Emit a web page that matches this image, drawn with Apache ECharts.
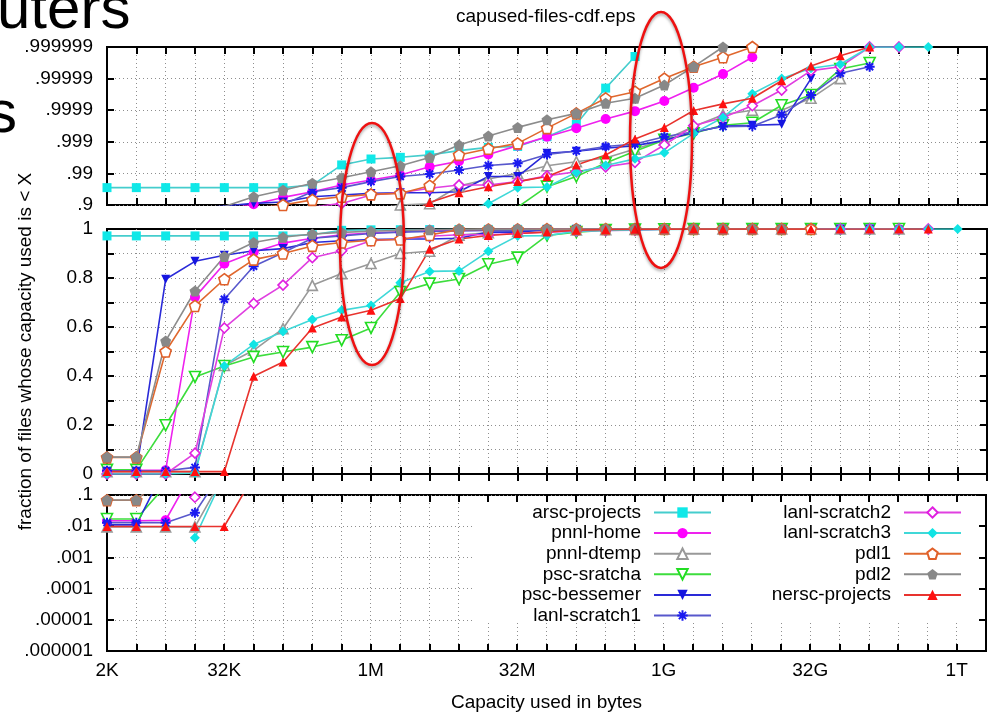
<!DOCTYPE html>
<html>
<head>
<meta charset="utf-8">
<script src="https://cdn.jsdelivr.net/npm/echarts@6/dist/echarts.min.js"></script>
<style>
  html, body { margin: 0; padding: 0; background: #fff; }
  #chart { width: 989px; height: 713px; }
</style>
</head>
<body>
<div id="chart"></div>
<script>
// capacity bucket as log2(bytes): 11 = 2K ... 40 = 1T
const sizeExp = [11, 12, 13, 14, 15, 16, 17, 18, 19, 20, 21, 22, 23, 24, 25,
                 26, 27, 28, 29, 30, 31, 32, 33, 34, 35, 36, 37, 38, 39, 40];
const xTickLabels = { 11: '2K', 15: '32K', 20: '1M', 25: '32M', 30: '1G', 35: '32G', 40: '1T' };

// fraction of files whose capacity used is < X, one value per bucket
const arscProjects = [0.9718, 0.9718, 0.9718, 0.9718, 0.9718, 0.9718, 0.9718, 0.9766, 0.9946, 0.9965,
  0.9969, 0.9974, 0.9981, 0.9985, 0.9986, 0.99931, 0.99972, 0.99998, 0.999998, 1,
  1, null, null, null, null, null, null, null, null, null];
const pnnlHome = [0.015, 0.015, 0.0155, 0.722, 0.858, 0.905, 0.9425, 0.962, 0.9766, 0.9838,
  0.9888, 0.9938, 0.9959, 0.99749, 0.99868, 0.99931, 0.99963, 0.99981, 0.999893, 0.999949,
  0.9999805, 0.9999928, 0.9999979, 1, 1, null, null, null, null, null];
const pnnlDtemp = [0.0095, 0.0095, 0.0095, 0.0095, 0.443, 0.505, 0.593, 0.77, 0.818, 0.859,
  0.9, 0.909, 0.975, 0.985, 0.99, 0.99425, 0.99573, 0.99676, 0.9983, 0.99913,
  0.99967, 0.99986, 0.9999, 0.9999, 0.999958, 0.99999, 1, 1, null, null];
const pscSratcha = [0.017, 0.017, 0.199, 0.396, 0.441, 0.478, 0.498, 0.518, 0.546, 0.596,
  0.743, 0.777, 0.796, 0.856, 0.883, 0.9737, 0.9874, 0.9953, 0.998, 0.99913,
  0.99946, 0.9997, 0.99975, 0.99993, 0.999967, 0.999995, 0.9999968, 1, null, null];
const pscBessemer = [0.011, 0.011, 0.795, 0.868, 0.893, 0.911, 0.92, 0.945, 0.952, 0.957,
  0.959, 0.959, 0.962, 0.9874, 0.9874, 0.9977, 0.998, 0.9984, 0.99868, 0.9991,
  0.9995, 0.99968, 0.9997, 0.99972, 0.99999, 1, 1, null, null, null];
const lanlScratch1 = [0.013, 0.013, 0.013, 0.027, 0.713, 0.848, 0.903, 0.962, 0.9718, 0.9818,
  0.9874, 0.9895, 0.9922, 0.99438, 0.9952, 0.99749, 0.99805, 0.99859, 0.99883, 0.99931,
  0.99952, 0.99967, 0.99968, 0.99986, 0.999967, 0.9999932, 0.9999958, 1, null, null];
const lanlScratch2 = [0, 0, 0, 0.085, 0.596, 0.696, 0.771, 0.883, 0.911, 0.952,
  0.959, 0.9705, 0.9766, 0.9766, 0.9818, 0.988, 0.9911, 0.99383, 0.99553, 0.99874,
  0.99969, 0.99983, 0.999928, 0.999977, 0.9999944, 0.9999958, 0.999999, 0.999999, 1, null];
const lanlScratch3 = [0, 0, 0, 0.0043, 0.441, 0.529, 0.582, 0.631, 0.668, 0.688,
  0.781, 0.827, 0.829, 0.909, 0.9718, 0.973, 0.9907, 0.99438, 0.99653, 0.99776,
  0.99946, 0.99983, 0.99997, 0.99999, 0.9999953, 0.9999965, 0.999999, 0.999999, 0.999999, 1];
const pdl1 = [0.068, 0.068, 0.5, 0.686, 0.795, 0.875, 0.9, 0.931, 0.945, 0.954,
  0.957, 0.9755, 0.9974, 0.99834, 0.99888, 0.99963, 0.999874, 0.999958, 0.999974, 0.99999,
  0.9999958, 0.9999979, 0.999999, 1, 1, null, null, null, null, null];
const pdl2 = [0.069, 0.069, 0.543, 0.747, 0.888, 0.945, 0.966, 0.9796, 0.9862, 0.9911,
  0.99425, 0.99684, 0.99874, 0.99934, 0.99965, 0.9998, 0.999874, 0.99994, 0.999958, 0.999984,
  0.9999958, 0.999999, 1, 1, null, null, null, null, null, null];
const nerscProjects = [0.0098, 0.0098, 0.0098, 0.0098, 0.0098, 0.399, 0.457, 0.596, 0.641, 0.668,
  0.716, 0.917, 0.9593, 0.9737, 0.9818, 0.9874, 0.9946, 0.99737, 0.99919, 0.99965,
  0.999898, 0.999937, 0.999958, 0.9999883, 0.999996, 0.9999981, 0.999999, 1, 1, null];

const legendLeft = ['arsc-projects', 'pnnl-home', 'pnnl-dtemp', 'psc-sratcha', 'psc-bessemer', 'lanl-scratch1'];
const legendRight = ['lanl-scratch2', 'lanl-scratch3', 'pdl1', 'pdl2', 'nersc-projects'];

const FONT = '"Liberation Sans", Arial, sans-serif';
const triDown = 'path://M0,0L10,0L5,9Z';
const pentagon = 'path://M5,0L10,3.6L8.1,9.5L1.9,9.5L0,3.6Z';
const asterisk = 'path://M5,0L5,10M0,5L10,5M1.5,1.5L8.5,8.5M1.5,8.5L8.5,1.5';

const defs = [
  { name: 'arsc-projects', data: arscProjects, line: '#45cdcd', mark: '#10e8e8', symbol: 'rect', size: 9 },
  { name: 'pnnl-home', data: pnnlHome, line: '#ee22ee', mark: '#ff00ff', symbol: 'circle', size: 10 },
  { name: 'pnnl-dtemp', data: pnnlDtemp, line: '#999999', mark: '#999999', symbol: 'triangle', size: 10, open: true },
  { name: 'psc-sratcha', data: pscSratcha, line: '#3ddd3d', mark: '#22dd22', symbol: triDown, size: 11, open: true },
  { name: 'psc-bessemer', data: pscBessemer, line: '#2a2ad8', mark: '#1515e0', symbol: triDown, size: 9 },
  { name: 'lanl-scratch1', data: lanlScratch1, line: '#5858cc', mark: '#1a1af0', symbol: asterisk, size: 10, star: true },
  { name: 'lanl-scratch2', data: lanlScratch2, line: '#e040e0', mark: '#e020e0', symbol: 'diamond', size: 10, open: true },
  { name: 'lanl-scratch3', data: lanlScratch3, line: '#40d8d8', mark: '#10e4e4', symbol: 'diamond', size: 10 },
  { name: 'pdl1', data: pdl1, line: '#e0682e', mark: '#e0602a', symbol: pentagon, size: 11, open: true },
  { name: 'pdl2', data: pdl2, line: '#8c8c8c', mark: '#888888', symbol: pentagon, size: 11 },
  { name: 'nersc-projects', data: nerscProjects, line: '#e8332e', mark: '#ff1010', symbol: 'triangle', size: 9 }
];

// panel transforms: top = 1-F on a log scale, middle = F, bottom = F on a log scale
const panels = [
  f => (f == null || f >= 1) ? null : 1 - f,
  f => f,
  f => (f == null || f <= 0) ? null : f
];

const series = [];
panels.forEach((tf, p) => {
  defs.forEach(d => {
    series.push({
      type: 'line',
      name: d.name,
      xAxisIndex: p * 2,
      yAxisIndex: p * 2,
      data: sizeExp.map((e, i) => [e, tf(d.data[i])]),
      symbol: d.symbol,
      symbolSize: d.size,
      showAllSymbol: true,
      clip: true,
      lineStyle: { color: d.line, width: 1.6 },
      itemStyle: d.open
        ? { color: '#fff', borderColor: d.mark, borderWidth: 1.6 }
        : { color: d.mark, borderColor: d.mark, borderWidth: d.star ? 2 : 0 },
      emphasis: { disabled: true },
      silent: true
    });
  });
});

const grids = [
  { left: 107, right: 2, top: 47, height: 158 },
  { left: 107, right: 2, top: 229, height: 245 },
  { left: 107, right: 2, top: 495, height: 157 }
].map(g => Object.assign(g, { show: true, borderColor: '#000', borderWidth: 2, backgroundColor: 'transparent' }));

const tick = { show: true, inside: true, length: 7, lineStyle: { color: '#000', width: 2 } };
const dotted = { show: true, showMinLine: false, showMaxLine: false, lineStyle: { color: '#8e8e8e', type: [1, 3], width: 1 } };
const labelText = { color: '#000', fontSize: 19, fontFamily: FONT };

const xAxis = [];
const yAxis = [];
[0, 1, 2].forEach(g => {
  xAxis.push({
    type: 'value', gridIndex: g, min: 11, max: 41, interval: 1, position: 'bottom',
    axisLine: { show: false }, axisTick: tick, splitLine: dotted,
    axisLabel: g === 2
      ? Object.assign({ margin: 10, formatter: v => xTickLabels[v] || '' }, labelText)
      : { show: false },
    name: g === 2 ? 'Capacity used in bytes' : '',
    nameLocation: 'middle', nameGap: 42,
    nameTextStyle: labelText
  });
  xAxis.push({
    type: 'value', gridIndex: g, min: 11, max: 41, interval: 1, position: 'top',
    axisLine: { show: false }, axisTick: tick, splitLine: { show: false }, axisLabel: { show: false }
  });
});

const nines = v => '.' + '9'.repeat(Math.round(-Math.log10(v)));
const decimals = v => '.' + '0'.repeat(Math.round(-Math.log10(v)) - 1) + '1';

// top panel
yAxis.push({
  type: 'log', gridIndex: 0, logBase: 10, min: 1e-6, max: 0.1, inverse: true, position: 'left',
  axisLine: { show: false }, axisTick: tick, splitLine: dotted,
  axisLabel: Object.assign({ margin: 14, formatter: nines }, labelText)
});
yAxis.push({
  type: 'log', gridIndex: 0, logBase: 10, min: 1e-6, max: 0.1, inverse: true, position: 'right',
  axisLine: { show: false }, axisTick: tick, splitLine: { show: false }, axisLabel: { show: false }
});
// middle panel
yAxis.push({
  type: 'value', gridIndex: 1, min: 0, max: 1, interval: 0.1, position: 'left',
  axisLine: { show: false }, axisTick: tick, splitLine: dotted,
  axisLabel: Object.assign({ margin: 14, formatter: v => (Math.round(v * 10) % 2 === 0 ? String(Math.round(v * 10) / 10) : '') }, labelText),
  name: 'fraction of files whose capacity used is < X',
  nameLocation: 'middle', nameRotate: 90, nameGap: 72,
  nameTextStyle: labelText
});
yAxis.push({
  type: 'value', gridIndex: 1, min: 0, max: 1, interval: 0.1, position: 'right',
  axisLine: { show: false }, axisTick: tick, splitLine: { show: false }, axisLabel: { show: false }
});
// bottom panel
yAxis.push({
  type: 'log', gridIndex: 2, logBase: 10, min: 1e-6, max: 0.1, position: 'left',
  axisLine: { show: false }, axisTick: tick, splitLine: dotted,
  axisLabel: Object.assign({ margin: 14, formatter: decimals }, labelText)
});
yAxis.push({
  type: 'log', gridIndex: 2, logBase: 10, min: 1e-6, max: 0.1, position: 'right',
  axisLine: { show: false }, axisTick: tick, splitLine: { show: false }, axisLabel: { show: false }
});

const legendItem = (name, right, top) => ({
  data: [name], orient: 'vertical', align: 'right', right: right, top: top, padding: 0,
  itemWidth: 57, itemHeight: 13, selectedMode: false,
  textStyle: { color: '#000', fontSize: 19, fontFamily: FONT, padding: [0, 8, 0, 0] }
});
const legend = [];
legendLeft.forEach((n, i) => legend.push(legendItem(n, 277, 503 + i * 20.6)));
legendRight.forEach((n, i) => legend.push(legendItem(n, 27, 503 + i * 20.6)));

const option = {
  animation: false,
  backgroundColor: '#fff',
  title: {
    text: 'capused-files-cdf.eps', left: 456, top: 7, padding: 0,
    textStyle: { color: '#000', fontSize: 19, fontWeight: 'normal', fontFamily: FONT }
  },
  grid: grids,
  xAxis: xAxis,
  yAxis: yAxis,
  legend: legend,
  series: series,
  graphic: [
    // opaque key box
    { type: 'rect', z: 1, silent: true, shape: { x: 474, y: 503, width: 505, height: 119 }, style: { fill: '#fff' } },
    // slide text behind the chart
    { type: 'text', z: 1, silent: true, x: -3, y: 11, style: { text: 'uters', fill: '#000', font: '60px ' + FONT, verticalAlign: 'middle' } },
    { type: 'text', z: 1, silent: true, x: -13, y: 115, style: { text: 's', fill: '#000', font: '60px ' + FONT, verticalAlign: 'middle' } },
    // hand-drawn highlight ellipses
    { type: 'ellipse', z: 20, silent: true, shape: { cx: 372, cy: 244, rx: 32, ry: 121 },
      style: { fill: 'none', stroke: '#ee1111', lineWidth: 2.5, shadowColor: 'rgba(0,0,0,0.35)', shadowBlur: 3, shadowOffsetY: 2 } },
    { type: 'ellipse', z: 20, silent: true, shape: { cx: 661, cy: 140, rx: 31, ry: 128 },
      style: { fill: 'none', stroke: '#ee1111', lineWidth: 2.5, shadowColor: 'rgba(0,0,0,0.35)', shadowBlur: 3, shadowOffsetY: 2 } }
  ]
};

const chart = echarts.init(document.getElementById('chart'));
chart.setOption(option);
window.addEventListener('resize', () => chart.resize());
</script>
</body>
</html>
